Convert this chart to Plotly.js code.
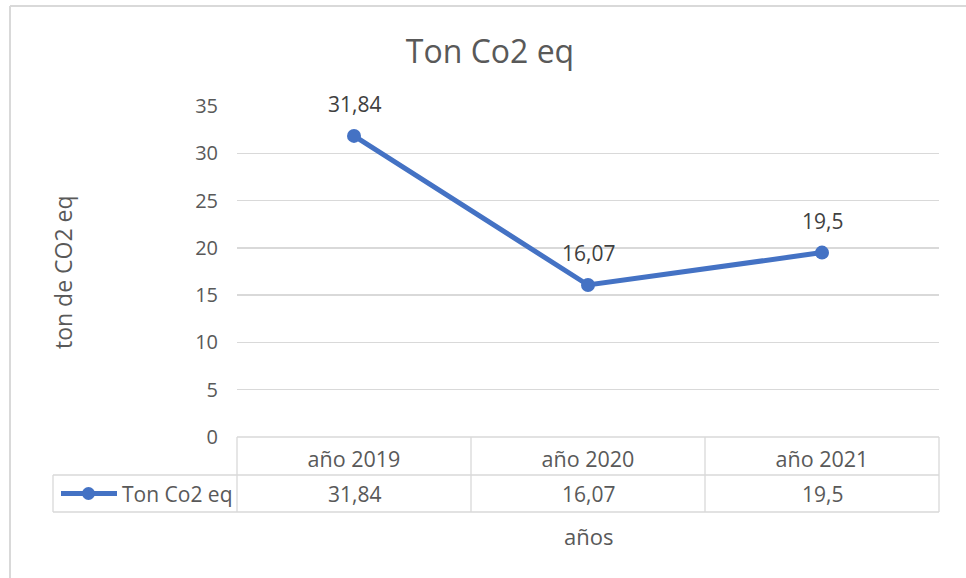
<!DOCTYPE html>
<html>
<head>
<meta charset="utf-8">
<script src="https://cdn.plot.ly/plotly-3.0.1.min.js"></script>
<style>html,body{margin:0;padding:0;background:#fff;}#chart{width:966px;height:578px;}</style>
</head>
<body>
<div id="chart"></div>
<script>
// ---- data ----
const categories = ["año 2019", "año 2020", "año 2021"];
const seriesName = "Ton Co2 eq";
const values = [31.84, 16.07, 19.5];
const yTicks = [0, 5, 10, 15, 20, 25, 30, 35];
const chartTitle = "Ton Co2 eq";
const xTitle = "años";
const yTitle = "ton de CO2 eq";

// ---- layout helpers ----
const W = 966, H = 578;
const L = 237, R = 27, T = 106, B = 141;
const pw = W - L - R, ph = H - T - B;
const px = x => (x - L) / pw;
const py = y => (H - B - y) / ph;
const fmt = v => String(v).replace('.', ',');
const txt = '#595959';
const grid = '#d9d9d9';
const blue = '#4472C4';
const FONT = 'Open Sans, Noto Sans, sans-serif';

const trace = {
  x: categories,
  y: values,
  name: seriesName,
  type: 'scatter',
  mode: 'lines+markers',
  line: {color: blue, width: 5},
  marker: {color: blue, size: 14},
  cliponaxis: false,
  showlegend: false,
  hoverinfo: 'x+y'
};

const shapes = [];
const line = (x0, y0, x1, y1, color, w) => shapes.push({type: 'line', xref: 'paper', yref: 'paper', x0: px(x0), y0: py(y0), x1: px(x1), y1: py(y1), line: {color: color, width: w}});
// outer chart border
line(10, 6, 980, 6, '#d9d9d9', 2);
line(10, 6, 10, 600, '#d9d9d9', 2);
// data table grid
const rowTop = 437, rowMid = 475, rowBot = 512, tblLeft = 53;
line(L, rowTop, W - R, rowTop, grid, 1.3);
line(tblLeft, rowMid, W - R, rowMid, grid, 1.3);
line(tblLeft, rowBot, W - R, rowBot, grid, 1.3);
line(tblLeft, rowMid, tblLeft, rowBot, grid, 1.3);
for (let i = 0; i <= categories.length; i++) {
  const xx = L + pw * i / categories.length;
  line(xx, rowTop, xx, rowBot, grid, 1.3);
}
// legend key inside the table
const keyY = (rowMid + rowBot) / 2;
line(61, keyY, 117, keyY, blue, 5);
shapes.push({type: 'circle', xref: 'paper', yref: 'paper', x0: px(82), x1: px(95), y0: py(keyY + 6.5), y1: py(keyY - 6.5), fillcolor: blue, line: {color: blue, width: 0}});

const annotations = [];
values.forEach((v, i) => {
  // data labels above points
  annotations.push({
    xref: 'x', yref: 'y', x: categories[i], y: v, yshift: 32,
    text: fmt(v), showarrow: false, xanchor: 'center', yanchor: 'middle',
    font: {family: FONT, size: 21, color: '#404040'}
  });
  // table values
  annotations.push({
    xref: 'x', yref: 'paper', x: categories[i], y: py(keyY),
    text: fmt(v), showarrow: false, xanchor: 'center', yanchor: 'middle',
    font: {family: FONT, size: 21, color: txt}
  });
});
annotations.push({xref: 'paper', yref: 'paper', x: px(120), y: py(keyY), text: seriesName, showarrow: false, xanchor: 'left', yanchor: 'middle', font: {family: FONT, size: 21, color: txt}});
annotations.push({xref: 'paper', yref: 'paper', x: px(588), y: py(536), text: xTitle, showarrow: false, xanchor: 'center', yanchor: 'middle', font: {family: FONT, size: 22, color: txt}});
annotations.push({xref: 'paper', yref: 'paper', x: px(63), y: py(272), text: yTitle, showarrow: false, textangle: -90, xanchor: 'center', yanchor: 'middle', font: {family: FONT, size: 23, color: txt}});

const layout = {
  width: W, height: H,
  margin: {l: L, r: R, t: T, b: B, pad: 0},
  paper_bgcolor: '#ffffff', plot_bgcolor: '#ffffff',
  font: {family: FONT, color: txt, size: 20},
  title: {text: chartTitle, font: {family: FONT, size: 32, color: txt}, xref: 'container', x: 490 / W, yref: 'container', y: 1 - 52 / H, xanchor: 'center', yanchor: 'middle'},
  showlegend: false,
  xaxis: {
    type: 'category', range: [-0.5, categories.length - 0.5],
    showgrid: false, zeroline: false, showline: false, ticks: '',
    tickfont: {family: FONT, size: 21.5, color: txt}, ticklabelstandoff: 7,
    fixedrange: true
  },
  yaxis: {
    range: [0, 35], tickvals: yTicks, ticktext: yTicks.map(String),
    showgrid: true, gridcolor: grid, gridwidth: 1.3, zeroline: false, showline: false, ticks: '',
    tickfont: {family: FONT, size: 20, color: txt}, ticklabelstandoff: 18,
    fixedrange: true
  },
  shapes: shapes,
  annotations: annotations
};

Plotly.newPlot('chart', [trace], layout, {displayModeBar: false, staticPlot: true});
</script>
</body>
</html>
